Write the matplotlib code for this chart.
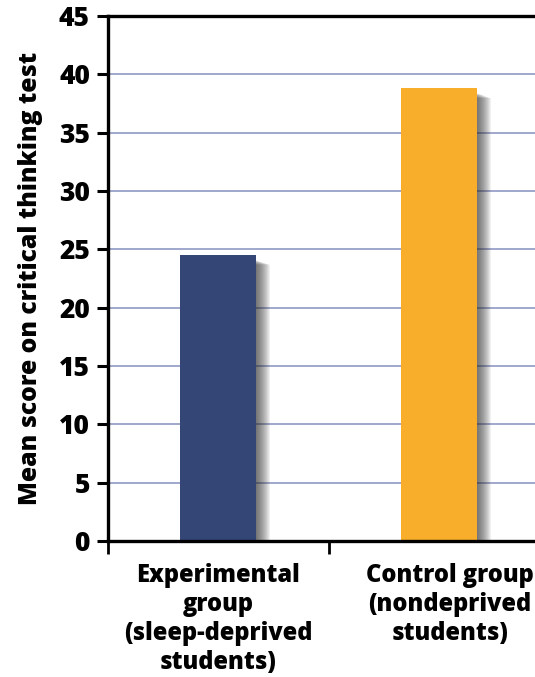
import matplotlib
matplotlib.use("Agg")
import matplotlib.pyplot as plt
import numpy as np

# Mean critical-thinking scores for the two groups
groups = ["Experimental\ngroup\n(sleep-deprived\nstudents)",
          "Control group\n(nondeprived\nstudents)"]
scores = [24.5, 38.8]
bar_colors = ["#344676", "#f9ae2b"]
yticks = [0, 5, 10, 15, 20, 25, 30, 35, 40, 45]
ylabel = "Mean score on critical thinking test"

plt.rcParams["font.family"] = ["Open Sans", "DejaVu Sans"]
plt.rcParams["font.weight"] = "heavy"

W, H, DPI = 535, 677, 100
fig = plt.figure(figsize=(W / DPI, H / DPI), dpi=DPI)
ax = fig.add_axes([108 / W, 1 - 541 / H, 1 - 108 / W, (541 - 16) / H])

x = np.arange(len(scores))
bar_w = 0.344
ax.set_xlim(-0.5, 1.435)
ax.set_ylim(0, 45)

# soft drop shadow to the right of each bar
px_x = (1.435 + 0.5) / (W - 108)   # data units per pixel horizontally
px_y = 45 / (541 - 16)
for k in range(1, 15):
    off = k * px_x
    ax.bar(x + off, np.array(scores) - 0.4 - k * px_y * 0.35, width=bar_w,
           color="#2a2a2a", alpha=0.065, zorder=1.5, linewidth=0)

ax.bar(x, scores, width=bar_w, color=bar_colors, zorder=2, linewidth=0)

# grid lines
for v in yticks[1:-1]:
    ax.axhline(v, color="#8590bd", lw=1.1, zorder=1)

ax.set_yticks(yticks)
ax.set_yticklabels([str(t) for t in yticks], fontsize=19, fontweight="heavy")
ax.tick_params(axis="y", length=8, width=2.2, pad=5, direction="out")

# category dividers along the baseline
ax.set_xticks([-0.5, 0.5])
ax.set_xticklabels(["", ""])
ax.tick_params(axis="x", length=9, width=2.0, direction="out")

label_x = [0.0, 1.05]
for lx, g in zip(label_x, groups):
    ax.text(lx, -1.85, g, ha="center", va="top", fontsize=17, fontweight="heavy",
            linespacing=1.22)

for side in ["left", "top", "bottom"]:
    ax.spines[side].set_linewidth(2.4)
    ax.spines[side].set_color("black")
ax.spines["right"].set_visible(False)
ax.spines["top"].set_zorder(3)

fig.text(31 / W, 1 - 278 / H, ylabel, rotation=90, ha="center", va="center",
         fontsize=17.8, fontweight="heavy")

fig.savefig("out.png", dpi=DPI)
